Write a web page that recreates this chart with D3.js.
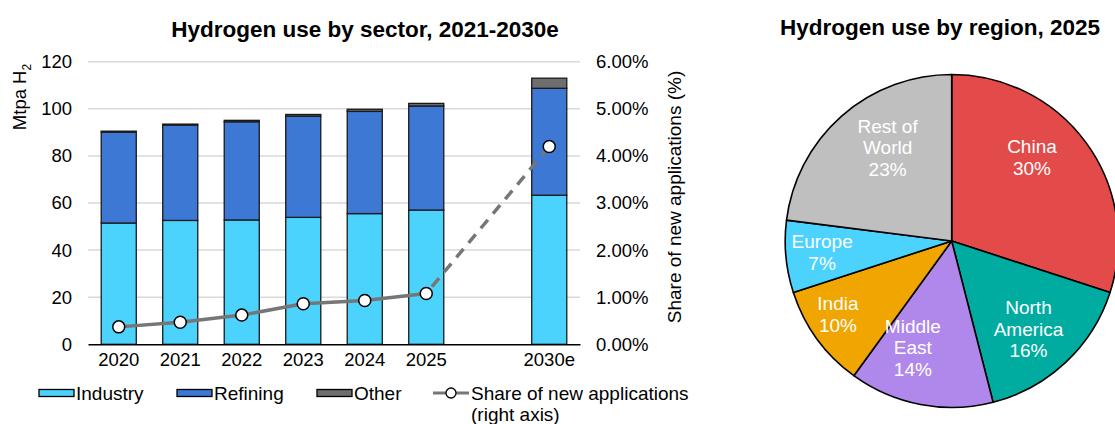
<!DOCTYPE html>
<html>
<head>
<meta charset="utf-8">
<script src="https://cdn.jsdelivr.net/npm/d3@7"></script>
<style>
  html, body { margin: 0; padding: 0; background: #fff; }
  svg { display: block; font-family: "Liberation Sans", Arial, sans-serif; }
</style>
</head>
<body>
<svg id="chart" width="1115" height="424"></svg>
<script>
// ---------- DATA ----------
const categories = ["2020", "2021", "2022", "2023", "2024", "2025", "2030e"];
const industry   = [51.5, 52.6, 52.8, 53.9, 55.5, 57.0, 63.3];
const refining   = [38.6, 40.5, 41.7, 43.0, 43.4, 44.2, 45.4];
const other      = [0.4, 0.4, 0.6, 0.7, 0.9, 1.1, 4.3];
const shareNewApps = [0.37, 0.47, 0.62, 0.86, 0.93, 1.08, 4.20]; // percent
const leftTicks  = [0, 20, 40, 60, 80, 100, 120];
const rightTicks = [0, 1, 2, 3, 4, 5, 6]; // percent

const regions      = ["China", "North\nAmerica", "Middle\nEast", "India", "Europe", "Rest of\nWorld"];
const regionShares = [30, 16, 14, 10, 7, 23];

const seriesNames = ["Industry", "Refining", "Other"];
const seriesColors = ["#4BD3FE", "#3C78D4", "#6E6E6E"];
const regionColors = ["#E24B4A", "#00AC9F", "#B088EC", "#F0A500", "#4BD3FE", "#BFBFBF"];

// ---------- SETUP ----------
const svg = d3.select("#chart");
const FONT = 18.5;
const FAM = "'Liberation Sans', Arial, sans-serif";

// domain with a blank gap between 2025 and 2030e
const xDomain = [...categories.slice(0, 6), "__gap__", categories[6]];
const x = d3.scaleBand().domain(xDomain).range([88, 580]).paddingInner(0.43).paddingOuter(0.215);
const y = d3.scaleLinear().domain([0, 120]).range([344.3, 61.7]);
const yR = d3.scaleLinear().domain([0, 6]).range([344.3, 61.7]);

// Titles
svg.append("text").attr("x", 365).attr("y", 36.5).attr("text-anchor", "middle")
  .attr("font-size", 22.5).attr("font-weight", "bold").attr("fill", "#000")
  .text("Hydrogen use by sector, 2021-2030e");
svg.append("text").attr("x", 940).attr("y", 35).attr("text-anchor", "middle")
  .attr("font-size", 22.5).attr("font-weight", "bold").attr("fill", "#000")
  .text("Hydrogen use by region, 2025");

// Gridlines
svg.append("g").selectAll("line").data(leftTicks.filter(d => d > 0)).join("line")
  .attr("x1", 88).attr("x2", 580)
  .attr("y1", d => y(d)).attr("y2", d => y(d))
  .attr("stroke", "#D9D9D9").attr("stroke-width", 1.5);

// Left axis
const leftAxis = d3.axisLeft(y).tickValues(leftTicks).tickSize(0).tickPadding(0);
const gL = svg.append("g").attr("transform", "translate(72,0)").call(leftAxis);
gL.select(".domain").remove();
gL.selectAll("text").attr("font-size", FONT).attr("fill", "#000").attr("font-family", FAM);

// Right axis
const rightAxis = d3.axisRight(yR).tickValues(rightTicks).tickSize(0).tickPadding(0)
  .tickFormat(d => d.toFixed(2) + "%");
const gR = svg.append("g").attr("transform", "translate(596,0)").call(rightAxis);
gR.select(".domain").remove();
gR.selectAll("text").attr("font-size", FONT).attr("fill", "#000").attr("font-family", FAM);

// Axis titles
const lt = svg.append("text").attr("transform", "translate(26,97) rotate(-90)")
  .attr("text-anchor", "middle").attr("font-size", FONT).attr("fill", "#000");
lt.append("tspan").text("Mtpa H");
lt.append("tspan").attr("font-size", 12).attr("dy", 5).text("2");

svg.append("text").attr("transform", "translate(681,197) rotate(-90)")
  .attr("text-anchor", "middle").attr("font-size", 19).attr("fill", "#000")
  .text("Share of new applications (%)");

// Stacked bars
const rows = categories.map((c, i) => ({ cat: c, Industry: industry[i], Refining: refining[i], Other: other[i] }));
const stack = d3.stack().keys(seriesNames)(rows);
svg.append("g").selectAll("g").data(stack).join("g")
  .attr("fill", (d, i) => seriesColors[i])
  .selectAll("rect").data(d => d).join("rect")
  .attr("x", d => x(d.data.cat))
  .attr("width", x.bandwidth())
  .attr("y", d => y(d[1]))
  .attr("height", d => y(d[0]) - y(d[1]))
  .attr("stroke", "#1a1a1a").attr("stroke-width", 1.3);

// X axis
const xAxis = d3.axisBottom(x).tickSize(0).tickPadding(0)
  .tickFormat(d => d === "__gap__" ? "" : d);
const gX = svg.append("g").attr("transform", `translate(0,${y(0)})`).call(xAxis);
gX.select(".domain").attr("stroke", "#000").attr("stroke-width", 1.6);
gX.selectAll("text").attr("font-size", FONT).attr("fill", "#000").attr("dy", "1.2em").attr("font-family", FAM);

// Share line
const pts = categories.map((c, i) => ({ cat: c, v: shareNewApps[i] }));
const cx = d => x(d.cat) + x.bandwidth() / 2;
const line = d3.line().x(cx).y(d => yR(d.v));
svg.append("path").datum(pts.slice(0, 6)).attr("d", line)
  .attr("fill", "none").attr("stroke", "#767676").attr("stroke-width", 3.5);
svg.append("path").datum(pts.slice(5)).attr("d", line)
  .attr("fill", "none").attr("stroke", "#767676").attr("stroke-width", 3.5)
  .attr("stroke-dasharray", "11,8").attr("stroke-dashoffset", -9);
svg.append("g").selectAll("circle").data(pts).join("circle")
  .attr("cx", cx).attr("cy", d => yR(d.v)).attr("r", 6)
  .attr("fill", "#fff").attr("stroke", "#000").attr("stroke-width", 1.5);

// Legend
const LFONT = 19;
const leg = svg.append("g");
const legSw = [{ x: 39, tx: 76 }, { x: 177, tx: 214 }, { x: 317, tx: 354 }];
seriesNames.forEach((name, i) => {
  leg.append("rect").attr("x", legSw[i].x).attr("y", 389.5).attr("width", 35).attr("height", 7)
    .attr("fill", seriesColors[i]).attr("stroke", "#000").attr("stroke-width", 1.3);
  leg.append("text").attr("x", legSw[i].tx).attr("y", 400).attr("font-size", LFONT).attr("fill", "#000").text(name);
});
leg.append("line").attr("x1", 433).attr("x2", 469).attr("y1", 393).attr("y2", 393)
  .attr("stroke", "#767676").attr("stroke-width", 3);
leg.append("circle").attr("cx", 451).attr("cy", 393).attr("r", 5)
  .attr("fill", "#fff").attr("stroke", "#000").attr("stroke-width", 1.3);
const lgt = leg.append("text").attr("x", 471).attr("y", 400).attr("font-size", LFONT).attr("fill", "#000");
lgt.append("tspan").attr("x", 471).text("Share of new applications");
lgt.append("tspan").attr("x", 471).attr("dy", 21).text("(right axis)");

// ---------- PIE ----------
const pcx = 951.7, pcy = 241, R = 166.5;
const pie = d3.pie().sort(null).value(d => d.v);
const pieData = pie(regions.map((r, i) => ({ name: r, v: regionShares[i], color: regionColors[i] })));
const arc = d3.arc().innerRadius(0).outerRadius(R);
const gP = svg.append("g").attr("transform", `translate(${pcx},${pcy})`);
gP.selectAll("path").data(pieData).join("path")
  .attr("d", arc).attr("fill", d => d.data.color)
  .attr("stroke", "#000").attr("stroke-width", 1.6).attr("stroke-linejoin", "round");

// best-fit style label nudges (layout only, relative to computed centroids)
const labelNudge = { "China": [-14, -15], "North\nAmerica": [-3, 3], "Middle\nEast": [-17, -8],
                     "India": [-6, -5], "Europe": [3, -1], "Rest of\nWorld": [13, -6] };
const lh = 21.5;
pieData.forEach(d => {
  const rf = d.data.v <= 10 ? 0.8 : 0.7;
  const la = d3.arc().innerRadius(R * rf).outerRadius(R * rf);
  let [lx, ly] = la.centroid(d);
  const nd = labelNudge[d.data.name] || [0, 0];
  lx += nd[0]; ly += nd[1];
  const lines = [...d.data.name.split("\n"), d.data.v + "%"];
  const t = gP.append("text").attr("text-anchor", "middle").attr("font-size", 19).attr("fill", "#fff");
  lines.forEach((s, k) => {
    t.append("tspan").attr("x", lx).attr("y", ly + (k - (lines.length - 1) / 2) * lh).attr("dy", "0.35em").text(s);
  });
});
</script>
</body>
</html>
